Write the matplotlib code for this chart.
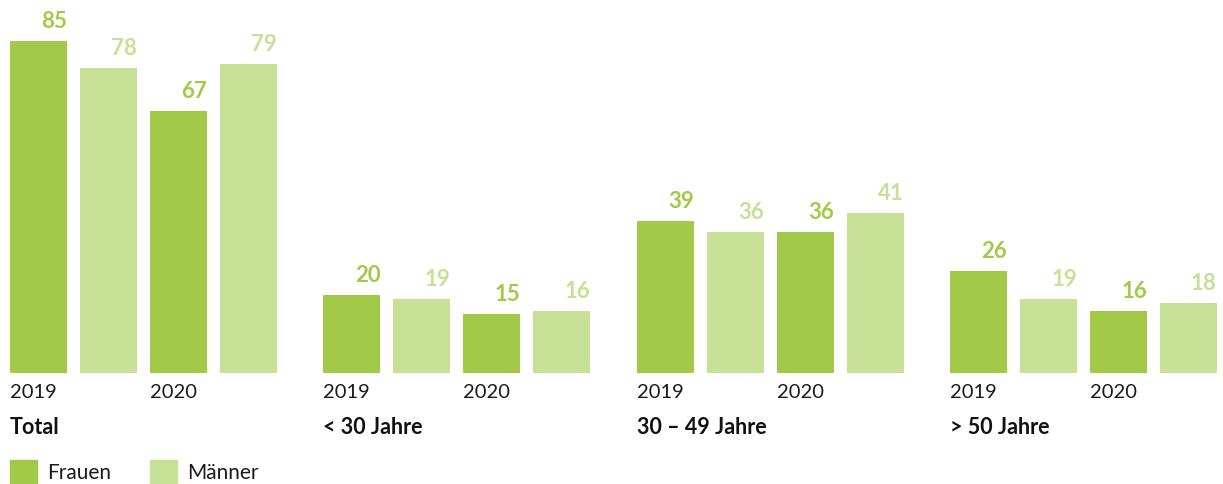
import matplotlib.pyplot as plt

plt.rcParams['font.family'] = ['Lato', 'DejaVu Sans']

groups = ['Total', '< 30 Jahre', '30 – 49 Jahre', '> 50 Jahre']
years = ['2019', '2020']
frauen_2019 = [85, 20, 39, 26]
maenner_2019 = [78, 19, 36, 19]
frauen_2020 = [67, 15, 36, 16]
maenner_2020 = [79, 16, 41, 18]

c_frauen = '#a2ca48'
c_maenner = '#c6e195'

W, H = 1223, 484
base = 373          # baseline in px from top
scale = 332 / 85    # px per unit

fig = plt.figure(figsize=(W / 100, H / 100), dpi=100)
ax = fig.add_axes([0, (H - base) / H, 1, base / H])
ax.set_xlim(0, W)
ax.set_ylim(0, base / scale)
ax.axis('off')

bar_w = 57
for g, name in enumerate(groups):
    x0 = 10 + g * 313.3
    vals = [frauen_2019[g], maenner_2019[g], frauen_2020[g], maenner_2020[g]]
    cols = [c_frauen, c_maenner, c_frauen, c_maenner]
    for k, (v, c) in enumerate(zip(vals, cols)):
        left = x0 + k * 70
        ax.bar(left, v, width=bar_w, align='edge', color=c)
        ax.text(left + bar_w, v + 9 / scale, str(v), ha='right', va='bottom',
                color=c, fontsize=16, fontweight='bold')
    for j, yr in enumerate(years):
        ax.text(x0 + j * 140, -20 / scale, yr, ha='left', va='center',
                fontsize=14.5, color='#1a1a1a', clip_on=False)
    ax.text(x0, -54 / scale, name, ha='left', va='center', fontsize=15.5,
            fontweight='bold', color='#111111', clip_on=False)

# legend
for lx, lab, c in [(10, 'Frauen', c_frauen), (150, 'Männer', c_maenner)]:
    fig.patches.append(plt.Rectangle((lx / W, 0), 27 / W, 24 / H, color=c,
                                     transform=fig.transFigure, figure=fig))
    fig.text((lx + 37) / W, (H - 473) / H, lab, ha='left', va='center',
             fontsize=15, color='#1a1a1a')

fig.savefig('out.png', dpi=100)
